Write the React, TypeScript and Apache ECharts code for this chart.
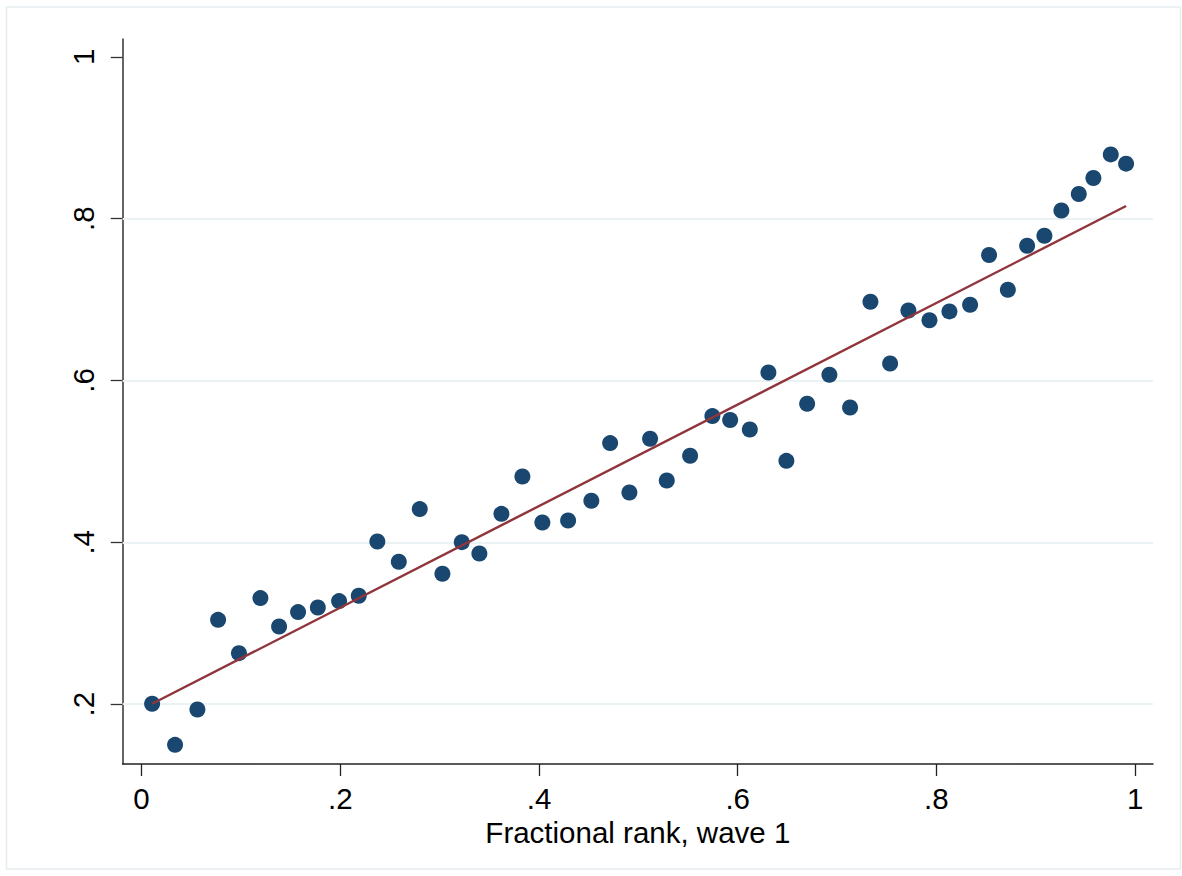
import React, { useEffect, useRef } from "react";
import * as echarts from "echarts";

// Binned scatter: fractional rank wave 1 (x) vs mean outcome (y)
const rankX: number[] = [
  0.0106, 0.0337, 0.0562, 0.077, 0.098, 0.1196, 0.1384, 0.1575, 0.1774, 0.1988,
  0.2186, 0.2373, 0.2589, 0.28, 0.3028, 0.3223, 0.34, 0.3622, 0.3833, 0.4034,
  0.4293, 0.4527, 0.4716, 0.491, 0.5118, 0.5286, 0.5521, 0.5745, 0.5924, 0.6122,
  0.6309, 0.649, 0.6699, 0.6923, 0.7131, 0.7336, 0.7534, 0.7718, 0.793, 0.8131,
  0.8339, 0.853, 0.8719, 0.8913, 0.9087, 0.9258, 0.9433, 0.958, 0.9755, 0.9909,
];
const rankY: number[] = [
  0.2004, 0.1497, 0.1933, 0.3042, 0.263, 0.331, 0.2959, 0.3137, 0.3194, 0.3273,
  0.3339, 0.401, 0.3759, 0.441, 0.3611, 0.4002, 0.3862, 0.4352, 0.4813, 0.4245,
  0.4269, 0.4513, 0.5226, 0.4616, 0.5279, 0.4764, 0.5069, 0.556, 0.5511, 0.5394,
  0.6099, 0.5007, 0.5712, 0.607, 0.5666, 0.6973, 0.621, 0.6865, 0.6744, 0.6853,
  0.6936, 0.755, 0.7121, 0.7665, 0.7789, 0.8101, 0.8304, 0.8502, 0.8794, 0.8679,
];

// Linear fit endpoints
const fitX: number[] = [0.0106, 0.9909];
const fitY: number[] = [0.2004, 0.8156];

// Axis ticks and labels
const xTickValues: number[] = [0, 0.2, 0.4, 0.6, 0.8, 1];
const xTickLabels: string[] = ["0", ".2", ".4", ".6", ".8", "1"];
const yTickValues: number[] = [0.2, 0.4, 0.6, 0.8, 1];
const yTickLabels: string[] = [".2", ".4", ".6", ".8", "1"];
const yGridValues: number[] = [0.2, 0.4, 0.6, 0.8];

const xTitle = "Fractional rank, wave 1";

const FONT = "'Liberation Sans', Arial, Helvetica, sans-serif";

export default function App() {
  const ref = useRef<HTMLDivElement>(null);

  useEffect(() => {
    if (!ref.current) return;
    const chart = echarts.init(ref.current, undefined, { renderer: "svg" });

    const scatterData = rankX.map((x, i) => [x, rankY[i]]);
    const fitData = fitX.map((x, i) => [x, fitY[i]]);

    const xLabelFor = (v: number) => {
      const i = xTickValues.findIndex((t) => Math.abs(t - v) < 1e-9);
      return i >= 0 ? xTickLabels[i] : "";
    };
    const yLabelFor = (v: number) => {
      const i = yTickValues.findIndex((t) => Math.abs(t - v) < 1e-9);
      return i >= 0 ? yTickLabels[i] : "";
    };

    chart.setOption({
      animation: false,
      backgroundColor: "#ffffff",
      textStyle: { fontFamily: FONT },
      graphic: [
        {
          type: "rect",
          shape: { x: 6.5, y: 7, width: 1174, height: 862 },
          style: { fill: "none", stroke: "#e6eef0", lineWidth: 1.5 },
          silent: true,
          z: 0,
        },
      ],
      grid: {
        left: 122.7,
        top: 39,
        right: 29,
        bottom: 112,
        containLabel: false,
      },
      xAxis: {
        type: "value",
        min: -0.019,
        max: 1.018,
        name: xTitle,
        nameLocation: "middle",
        nameGap: 51,
        nameTextStyle: { fontSize: 29.5, color: "#000", fontFamily: FONT },
        axisLine: { show: true, onZero: false, lineStyle: { color: "#222", width: 1.5 } },
        axisTick: {
          show: true,
          customValues: xTickValues,
          length: 12,
          inside: false,
          lineStyle: { color: "#222", width: 1.3 },
        },
        axisLabel: {
          show: true,
          customValues: xTickValues,
          formatter: (v: number) => xLabelFor(v),
          fontSize: 29.5,
          color: "#000",
          margin: 19,
          fontFamily: FONT,
        },
        splitLine: { show: false },
      },
      yAxis: {
        type: "value",
        min: 0.126,
        max: 1.022,
        axisLine: { show: true, onZero: false, lineStyle: { color: "#333", width: 1.5 } },
        axisTick: {
          show: true,
          customValues: yTickValues,
          length: 12,
          inside: false,
          lineStyle: { color: "#333", width: 1.3 },
        },
        axisLabel: {
          show: true,
          customValues: yTickValues,
          formatter: (v: number) => yLabelFor(v),
          rotate: 90,
          fontSize: 29.5,
          color: "#000",
          margin: 24,
          fontFamily: FONT,
        },
        splitLine: { show: false },
      },
      series: [
        {
          type: "scatter",
          data: scatterData,
          symbol: "circle",
          symbolSize: 16,
          itemStyle: { color: "#1a476f", opacity: 1 },
          z: 3,
          markLine: {
            silent: true,
            symbol: ["none", "none"],
            label: { show: false },
            z: 1,
            lineStyle: { color: "#eaf2f3", width: 2, type: "solid" },
            emphasis: { disabled: true },
            data: yGridValues.map((v) => ({ yAxis: v })),
          },
        },
        {
          type: "line",
          data: fitData,
          symbol: "none",
          lineStyle: { color: "#90353b", width: 2.4 },
          itemStyle: { color: "#90353b" },
          z: 4,
        },
      ],
    });

    return () => chart.dispose();
  }, []);

  return (
    <div
      ref={ref}
      style={{ position: "absolute", left: 0, top: 0, width: 1182, height: 876 }}
    />
  );
}
